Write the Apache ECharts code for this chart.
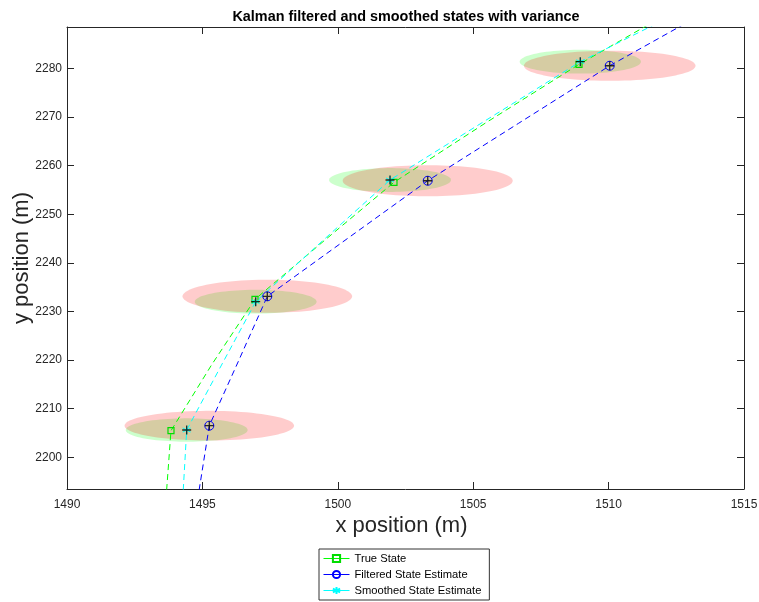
<!DOCTYPE html>
<html>
<head>
<meta charset="utf-8">
<script src="https://cdn.jsdelivr.net/npm/echarts@6/dist/echarts.min.js"></script>
<style>html,body{margin:0;padding:0;background:#fff}#c{width:759px;height:602px}</style>
</head>
<body>
<div id="c"></div>
<script>
const chartTitle = 'Kalman filtered and smoothed states with variance';
const xName = 'x position (m)';
const yName = 'y position (m)';
const xTicks = [1490, 1495, 1500, 1505, 1510, 1515];
const yTicks = [2200, 2210, 2220, 2230, 2240, 2250, 2260, 2270, 2280];
const seriesNames = ['True State', 'Filtered State Estimate', 'Smoothed State Estimate'];

// trajectories; marker points at markerIdx
const trueX   = [1493.652, 1493.682, 1493.840, 1495.336, 1496.942, 1499.490, 1502.075, 1505.436, 1508.907, 1512.415];
const trueY   = [2191.22, 2193.48, 2205.47, 2218.98, 2232.49, 2244.52, 2256.56, 2268.69, 2280.82, 2291.99];
const filtX   = [1494.819, 1494.885, 1495.255, 1496.333, 1497.397, 1500.358, 1503.320, 1506.680, 1510.041, 1513.722];
const filtY   = [2191.22, 2193.48, 2206.50, 2219.80, 2233.11, 2245.00, 2256.88, 2268.71, 2280.53, 2291.99];
const smoothX = [1494.272, 1494.295, 1494.420, 1495.687, 1496.968, 1499.435, 1501.928, 1505.436, 1508.955, 1512.773];
const smoothY = [2191.22, 2193.48, 2205.61, 2218.78, 2232.00, 2244.52, 2257.03, 2269.20, 2281.36, 2291.99];
const markerIdx = [2, 4, 6, 8];

// variance ellipse half-widths (data units)
const filtRx = [3.13, 3.13, 3.14, 3.17];
const filtRy = [3.05, 3.40, 3.20, 3.10];
const smoothRx = [2.25, 2.25, 2.25, 2.24];
const smoothRy = [2.40, 2.45, 2.45, 2.45];

const FONT = 'Liberation Sans, Arial, Helvetica, sans-serif';
const AX = '#262626';

function lineData(xs, ys) {
  return xs.map((x, i) => markerIdx.indexOf(i) >= 0 ? {value: [x, ys[i]]} : {value: [x, ys[i]], symbol: 'none'});
}
function markerData(xs, ys) { return markerIdx.map(i => [xs[i], ys[i]]); }
function ellipseData(xs, ys, rx, ry) { return markerIdx.map((i, k) => [xs[i], ys[i], rx[k], ry[k]]); }

function ellipseRenderer(fill) {
  return function (params, api) {
    const c = api.coord([api.value(0), api.value(1)]);
    const s = api.size([api.value(2), api.value(3)]);
    const pts = [];
    for (let k = 0; k < 90; k++) {
      const t = k / 90 * 2 * Math.PI;
      pts.push([c[0] + s[0] * Math.cos(t), c[1] + s[1] * Math.sin(t)]);
    }
    return {type: 'polygon', shape: {points: pts}, style: {fill: fill, stroke: null}};
  };
}

const asterisk = 'path://M5,0L5,10M0.67,2.5L9.33,7.5M0.67,7.5L9.33,2.5';
const plus = 'path://M5,0L5,10M0,5L10,5';
const plain = v => String(v);

const chart = echarts.init(document.getElementById('c'), null, {renderer: 'canvas'});
chart.setOption({
  animation: false,
  backgroundColor: '#fff',
  title: {
    text: chartTitle, left: 401, top: 5, textAlign: 'center',
    textStyle: {fontFamily: FONT, fontSize: 14.4, fontWeight: 'bold', color: '#000'}
  },
  grid: {left: 67, right: 15, top: 27, bottom: 113, outerBoundsMode: 'none', containLabel: false},
  xAxis: [{
    type: 'value', min: 1490, max: 1515, interval: 5,
    name: xName, nameLocation: 'middle', nameGap: 26, nameMoveOverlap: false,
    nameTextStyle: {fontFamily: FONT, fontSize: 22, color: AX, padding: [0, 8, 0, 0]},
    axisLine: {show: true, onZero: false, lineStyle: {color: AX, width: 1}},
    axisTick: {show: true, inside: true, length: 7, lineStyle: {color: AX}},
    axisLabel: {fontFamily: FONT, fontSize: 12, color: AX, margin: 10, formatter: plain},
    splitLine: {show: false}
  }, {
    type: 'value', position: 'top', min: 1490, max: 1515, interval: 5,
    axisLine: {show: true, onZero: false, lineStyle: {color: AX, width: 1}},
    axisTick: {show: true, inside: true, length: 7, lineStyle: {color: AX}},
    axisLabel: {show: false}, splitLine: {show: false}
  }],
  yAxis: [{
    type: 'value', min: 2193.48, max: 2288.5,
    name: yName, nameLocation: 'middle', nameGap: 34, nameMoveOverlap: false,
    nameTextStyle: {fontFamily: FONT, fontSize: 22, color: AX},
    axisLine: {show: true, onZero: false, lineStyle: {color: AX, width: 1}},
    axisTick: {show: true, inside: true, length: 7, lineStyle: {color: AX}, customValues: yTicks},
    axisLabel: {fontFamily: FONT, fontSize: 12, color: AX, margin: 5, customValues: yTicks, formatter: plain},
    splitLine: {show: false}
  }, {
    type: 'value', position: 'right', min: 2193.48, max: 2288.5,
    axisLine: {show: true, onZero: false, lineStyle: {color: AX, width: 1}},
    axisTick: {show: true, inside: true, length: 7, lineStyle: {color: AX}, customValues: yTicks},
    axisLabel: {show: false, customValues: yTicks}, splitLine: {show: false}
  }],
  legend: {
    data: seriesNames, orient: 'vertical', left: 319, top: 549,
    padding: [4, 8, 4, 4], itemGap: 5, itemWidth: 26, itemHeight: 9,
    borderColor: '#333', borderWidth: 1, backgroundColor: '#fff',
    textStyle: {fontFamily: FONT, fontSize: 11.2, color: '#000'},
    lineStyle: {type: 'solid', width: 1}
  },
  series: [
    {type: 'custom', name: 'smoothVar', renderItem: ellipseRenderer('rgba(0,255,0,0.2)'), clip: true,
     data: ellipseData(smoothX, smoothY, smoothRx, smoothRy), z: 1, silent: true},
    {type: 'custom', name: 'filtVar', renderItem: ellipseRenderer('rgba(255,0,0,0.2)'), clip: true,
     data: ellipseData(filtX, filtY, filtRx, filtRy), z: 1, silent: true},
    {type: 'line', name: seriesNames[0], data: lineData(trueX, trueY), z: 3,
     showSymbol: true, showAllSymbol: true, symbol: 'rect', symbolSize: 6,
     lineStyle: {color: '#00ff00', width: 1, type: [6, 4]},
     itemStyle: {color: 'rgba(0,0,0,0)', borderColor: '#00dd00', borderWidth: 1.2}},
    {type: 'line', name: seriesNames[1], data: lineData(filtX, filtY), z: 3,
     showSymbol: true, showAllSymbol: true, symbol: 'circle', symbolSize: 9,
     lineStyle: {color: '#0000ff', width: 1, type: [6, 4]},
     itemStyle: {color: 'rgba(0,0,0,0)', borderColor: '#0000ff', borderWidth: 1}},
    {type: 'line', name: seriesNames[2], data: lineData(smoothX, smoothY), z: 3,
     showSymbol: true, showAllSymbol: true, symbol: asterisk, symbolSize: 8,
     lineStyle: {color: '#00ffff', width: 1, type: [6, 4]},
     itemStyle: {color: 'rgba(0,0,0,0)', borderColor: '#00ffff', borderWidth: 1}},
    {type: 'scatter', name: 'centers', z: 4, silent: true,
     data: markerData(filtX, filtY).concat(markerData(smoothX, smoothY)),
     symbol: plus, symbolSize: 9,
     itemStyle: {color: 'rgba(0,0,0,0)', borderColor: '#000', borderWidth: 1.3}}
  ]
});
</script>
</body>
</html>
